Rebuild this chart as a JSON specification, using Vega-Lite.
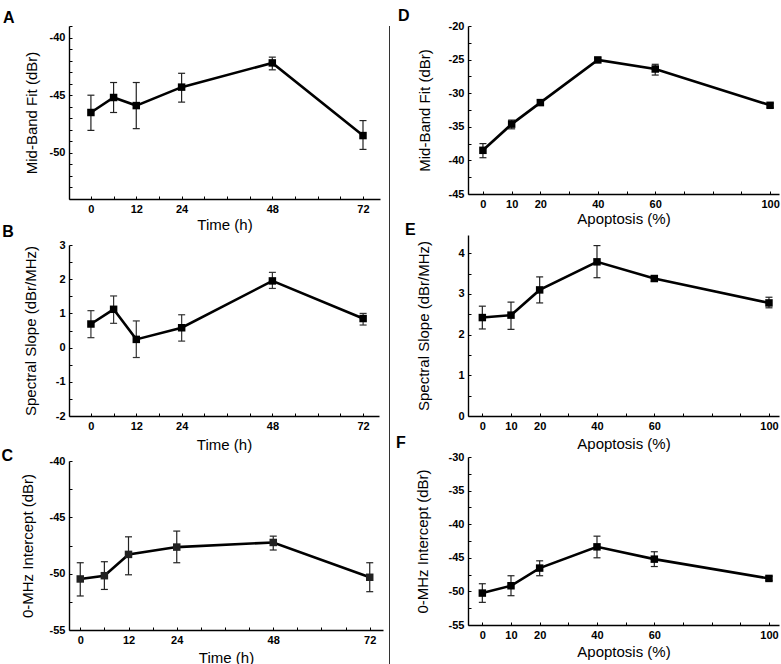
{
  "$schema": "https://vega.github.io/schema/vega-lite/v6.json",
  "padding": {"left": 1, "top": 8, "right": 5, "bottom": 0},
  "background": "white",
  "datasets": {
    "A": [
      {"x": 0, "y": -46.5, "lo": -48.05, "hi": -45.0},
      {"x": 6, "y": -45.2, "lo": -46.5, "hi": -43.9},
      {"x": 12, "y": -45.9, "lo": -47.9, "hi": -43.9},
      {"x": 24, "y": -44.3, "lo": -45.6, "hi": -43.1},
      {"x": 48, "y": -42.2, "lo": -42.8, "hi": -41.7},
      {"x": 72, "y": -48.5, "lo": -49.7, "hi": -47.2}
    ],
    "B": [
      {"x": 0, "y": 0.69, "lo": 0.29, "hi": 1.08},
      {"x": 6, "y": 1.12, "lo": 0.71, "hi": 1.51},
      {"x": 12, "y": 0.24, "lo": -0.29, "hi": 0.78},
      {"x": 24, "y": 0.58, "lo": 0.19, "hi": 0.96},
      {"x": 48, "y": 1.95, "lo": 1.73, "hi": 2.2},
      {"x": 72, "y": 0.85, "lo": 0.66, "hi": 1.0}
    ],
    "C": [
      {"x": 0, "y": -50.47, "lo": -51.98, "hi": -49.03},
      {"x": 6, "y": -50.18, "lo": -51.4, "hi": -48.94},
      {"x": 12, "y": -48.29, "lo": -50.1, "hi": -46.73},
      {"x": 24, "y": -47.64, "lo": -49.03, "hi": -46.22},
      {"x": 48, "y": -47.23, "lo": -47.9, "hi": -46.67},
      {"x": 72, "y": -50.32, "lo": -51.6, "hi": -49.03}
    ],
    "D": [
      {"x": 0, "y": -38.5, "lo": -39.6, "hi": -37.5},
      {"x": 10, "y": -34.6, "lo": -35.3, "hi": -34.0},
      {"x": 20, "y": -31.4, "lo": -31.8, "hi": -31.0},
      {"x": 40, "y": -25.05, "lo": -25.35, "hi": -24.75},
      {"x": 60, "y": -26.4, "lo": -27.3, "hi": -25.7},
      {"x": 100, "y": -31.8, "lo": -32.1, "hi": -31.5}
    ],
    "E": [
      {"x": 0, "y": 2.42, "lo": 2.14, "hi": 2.70},
      {"x": 10, "y": 2.48, "lo": 2.13, "hi": 2.80},
      {"x": 20, "y": 3.10, "lo": 2.78, "hi": 3.42},
      {"x": 40, "y": 3.79, "lo": 3.40, "hi": 4.19},
      {"x": 60, "y": 3.38, "lo": 3.31, "hi": 3.45},
      {"x": 100, "y": 2.78, "lo": 2.66, "hi": 2.92}
    ],
    "F": [
      {"x": 0, "y": -50.25, "lo": -51.63, "hi": -48.86},
      {"x": 10, "y": -49.16, "lo": -50.64, "hi": -47.67},
      {"x": 20, "y": -46.53, "lo": -47.67, "hi": -45.45},
      {"x": 40, "y": -43.37, "lo": -45.0, "hi": -41.78},
      {"x": 60, "y": -45.2, "lo": -46.3, "hi": -44.1},
      {"x": 100, "y": -48.07, "lo": -48.37, "hi": -47.77}
    ],
    "sep": [{"v": 0}]
  },
  "hconcat": [
    {
      "spacing": -8,
      "vconcat": [
        {
          "width": 311, "height": 173,
          "data": {"name": "A"},
          "title": {"text": "A", "dx": -21, "offset": -6},
          "encoding": {
            "x": {"field": "x", "type": "quantitative", "scale": {"domain": [-5.8, 76.5], "nice": false, "zero": false},
                  "axis": {"title": "Time (h)", "values": [0,6,12,18,24,30,36,42,48,54,60,66,72], "tickCount": 100, "labelExpr": "indexof([0,12,24,48,72], datum.value) >= 0 ? '' + datum.value : ''", "titlePadding": 3}}
          },
          "layer": [
            {"mark": {"type": "rule", "color": "#222", "strokeWidth": 1.2},
             "encoding": {"y": {"field": "lo", "type": "quantitative", "title": "Mid-Band Fit (dBr)", "scale": {"domain": [-54, -39], "nice": false, "zero": false},
                                "axis": {"values": [-54,-53,-52,-51,-50,-49,-48,-47,-46,-45,-44,-43,-42,-41,-40,-39], "tickCount": 100, "labelExpr": "datum.value % 5 === 0 ? '' + datum.value : ''", "titlePadding": 10}}, "y2": {"field": "hi"}}},
            {"mark": {"type": "tick", "orient": "horizontal", "size": 7, "thickness": 1.2, "color": "#222", "opacity": 1},
             "encoding": {"y": {"field": "lo", "type": "quantitative", "title": "Mid-Band Fit (dBr)"}}},
            {"mark": {"type": "tick", "orient": "horizontal", "size": 7, "thickness": 1.2, "color": "#222", "opacity": 1},
             "encoding": {"y": {"field": "hi", "type": "quantitative", "title": "Mid-Band Fit (dBr)"}}},
            {"mark": {"type": "line", "color": "black", "strokeWidth": 2.6},
             "encoding": {"y": {"field": "y", "type": "quantitative", "title": "Mid-Band Fit (dBr)"}}},
            {"mark": {"type": "square", "color": "black", "size": 56, "opacity": 1},
             "encoding": {"y": {"field": "y", "type": "quantitative", "title": "Mid-Band Fit (dBr)"}}}
          ]
        },
        {
          "spacing": -4,
          "vconcat": [
            {
              "width": 310, "height": 171,
              "data": {"name": "B"},
              "title": {"text": "B", "dx": -21, "offset": -1},
              "encoding": {
                "x": {"field": "x", "type": "quantitative", "scale": {"domain": [-5.8, 76.2], "nice": false, "zero": false},
                      "axis": {"title": "Time (h)", "values": [0,6,12,18,24,30,36,42,48,54,60,66,72], "tickCount": 100, "labelExpr": "indexof([0,12,24,48,72], datum.value) >= 0 ? '' + datum.value : ''", "titlePadding": 6}}
              },
              "layer": [
                {"mark": {"type": "rule", "color": "#333", "strokeWidth": 1.2},
                 "encoding": {"y": {"field": "lo", "type": "quantitative", "title": "Spectral Slope (dBr/MHz)", "scale": {"domain": [-2, 3], "nice": false, "zero": false},
                                    "axis": {"values": [-2,-1.5,-1,-0.5,0,0.5,1,1.5,2,2.5,3], "tickCount": 100, "labelExpr": "datum.value % 1 === 0 ? '' + datum.value : ''", "titlePadding": 17}}, "y2": {"field": "hi"}}},
                {"mark": {"type": "tick", "orient": "horizontal", "size": 7, "thickness": 1.2, "color": "#333", "opacity": 1},
                 "encoding": {"y": {"field": "lo", "type": "quantitative", "title": "Spectral Slope (dBr/MHz)"}}},
                {"mark": {"type": "tick", "orient": "horizontal", "size": 7, "thickness": 1.2, "color": "#333", "opacity": 1},
                 "encoding": {"y": {"field": "hi", "type": "quantitative", "title": "Spectral Slope (dBr/MHz)"}}},
                {"mark": {"type": "line", "color": "black", "strokeWidth": 2.6},
                 "encoding": {"y": {"field": "y", "type": "quantitative", "title": "Spectral Slope (dBr/MHz)"}}},
                {"mark": {"type": "square", "color": "black", "size": 56, "opacity": 1},
                 "encoding": {"y": {"field": "y", "type": "quantitative", "title": "Spectral Slope (dBr/MHz)"}}}
              ]
            },
            {
              "width": 314, "height": 169,
              "data": {"name": "C"},
              "title": {"text": "C", "dx": -18.5, "offset": -9},
              "encoding": {
                "x": {"field": "x", "type": "quantitative", "scale": {"domain": [-2.8, 75.3], "nice": false, "zero": false},
                      "axis": {"title": "Time (h)", "values": [0,6,12,18,24,30,36,42,48,54,60,66,72], "tickCount": 100, "labelExpr": "indexof([0,12,24,48,72], datum.value) >= 0 ? '' + datum.value : ''", "titlePadding": 5}}
              },
              "layer": [
                {"mark": {"type": "rule", "color": "#222", "strokeWidth": 1.2},
                 "encoding": {"y": {"field": "lo", "type": "quantitative", "title": "0-MHz Intercept (dBr)", "scale": {"domain": [-55, -40], "nice": false, "zero": false},
                                    "axis": {"values": [-55,-52.5,-50,-47.5,-45,-42.5,-40], "tickCount": 100, "labelExpr": "datum.value % 5 === 0 ? '' + datum.value : ''", "titlePadding": 14}}, "y2": {"field": "hi"}}},
                {"mark": {"type": "tick", "orient": "horizontal", "size": 7, "thickness": 1.2, "color": "#222", "opacity": 1},
                 "encoding": {"y": {"field": "lo", "type": "quantitative", "title": "0-MHz Intercept (dBr)"}}},
                {"mark": {"type": "tick", "orient": "horizontal", "size": 7, "thickness": 1.2, "color": "#222", "opacity": 1},
                 "encoding": {"y": {"field": "hi", "type": "quantitative", "title": "0-MHz Intercept (dBr)"}}},
                {"mark": {"type": "line", "color": "black", "strokeWidth": 2.6},
                 "encoding": {"y": {"field": "y", "type": "quantitative", "title": "0-MHz Intercept (dBr)"}}},
                {"mark": {"type": "square", "color": "#222", "size": 56, "opacity": 1},
                 "encoding": {"y": {"field": "y", "type": "quantitative", "title": "0-MHz Intercept (dBr)"}}}
              ]
            }
          ]
        }
      ]
    },
    {
      "width": 1, "height": 652,
      "data": {"name": "sep"},
      "mark": {"type": "rule", "color": "#333", "strokeWidth": 1},
      "encoding": {"x": {"field": "v", "type": "quantitative", "axis": null, "scale": {"domain": [-1, 1]}}}
    },
    {
      "spacing": -4,
      "vconcat": [
        {
          "width": 311, "height": 168,
          "data": {"name": "D"},
          "title": {"text": "D", "dx": -19, "offset": -4},
          "encoding": {
            "x": {"field": "x", "type": "quantitative", "scale": {"domain": [-5.2, 103.1], "nice": false, "zero": false},
                  "axis": {"title": "Apoptosis (%)", "values": [0,10,20,30,40,50,60,70,80,90,100], "tickCount": 100, "labelExpr": "indexof([0,10,20,40,60,100], datum.value) >= 0 ? '' + datum.value : ''", "titlePadding": 2}}
          },
          "layer": [
            {"mark": {"type": "rule", "color": "#222", "strokeWidth": 1.2},
             "encoding": {"y": {"field": "lo", "type": "quantitative", "title": "Mid-Band Fit (dBr)", "scale": {"domain": [-45, -20], "nice": false, "zero": false},
                                "axis": {"values": [-45,-42.5,-40,-37.5,-35,-32.5,-30,-27.5,-25,-22.5,-20], "tickCount": 100, "labelExpr": "datum.value % 5 === 0 ? '' + datum.value : ''", "titlePadding": 16}}, "y2": {"field": "hi"}}},
            {"mark": {"type": "tick", "orient": "horizontal", "size": 7, "thickness": 1.2, "color": "#222", "opacity": 1},
             "encoding": {"y": {"field": "lo", "type": "quantitative", "title": "Mid-Band Fit (dBr)"}}},
            {"mark": {"type": "tick", "orient": "horizontal", "size": 7, "thickness": 1.2, "color": "#222", "opacity": 1},
             "encoding": {"y": {"field": "hi", "type": "quantitative", "title": "Mid-Band Fit (dBr)"}}},
            {"mark": {"type": "line", "color": "black", "strokeWidth": 2.6},
             "encoding": {"y": {"field": "y", "type": "quantitative", "title": "Mid-Band Fit (dBr)"}}},
            {"mark": {"type": "square", "color": "black", "size": 56, "opacity": 1},
             "encoding": {"y": {"field": "y", "type": "quantitative", "title": "Mid-Band Fit (dBr)"}}}
          ]
        },
        {
          "spacing": -17,
          "vconcat": [
            {
              "width": 311, "height": 181,
              "data": {"name": "E"},
              "title": {"text": "E", "dx": -12, "offset": -3},
              "encoding": {
                "x": {"field": "x", "type": "quantitative", "scale": {"domain": [-5, 103.5], "nice": false, "zero": false},
                      "axis": {"title": "Apoptosis (%)", "values": [0,10,20,30,40,50,60,70,80,90,100], "tickCount": 100, "labelExpr": "indexof([0,10,20,40,60,100], datum.value) >= 0 ? '' + datum.value : ''", "titlePadding": 5}}
              },
              "layer": [
                {"mark": {"type": "rule", "color": "#222", "strokeWidth": 1.2},
                 "encoding": {"y": {"field": "lo", "type": "quantitative", "title": "Spectral Slope (dBr/MHz)", "scale": {"domain": [0, 4.45], "nice": false, "zero": false},
                                    "axis": {"values": [0,0.5,1,1.5,2,2.5,3,3.5,4], "tickCount": 100, "labelExpr": "datum.value % 1 === 0 ? '' + datum.value : ''", "titlePadding": 26}}, "y2": {"field": "hi"}}},
                {"mark": {"type": "tick", "orient": "horizontal", "size": 7, "thickness": 1.2, "color": "#222", "opacity": 1},
                 "encoding": {"y": {"field": "lo", "type": "quantitative", "title": "Spectral Slope (dBr/MHz)"}}},
                {"mark": {"type": "tick", "orient": "horizontal", "size": 7, "thickness": 1.2, "color": "#222", "opacity": 1},
                 "encoding": {"y": {"field": "hi", "type": "quantitative", "title": "Spectral Slope (dBr/MHz)"}}},
                {"mark": {"type": "line", "color": "black", "strokeWidth": 2.6},
                 "encoding": {"y": {"field": "y", "type": "quantitative", "title": "Spectral Slope (dBr/MHz)"}}},
                {"mark": {"type": "square", "color": "black", "size": 56, "opacity": 1},
                 "encoding": {"y": {"field": "y", "type": "quantitative", "title": "Spectral Slope (dBr/MHz)"}}}
              ]
            },
            {
              "width": 311, "height": 168,
              "data": {"name": "F"},
              "title": {"text": "F", "dx": -19, "offset": 0.3},
              "encoding": {
                "x": {"field": "x", "type": "quantitative", "scale": {"domain": [-5, 103.5], "nice": false, "zero": false},
                      "axis": {"title": "Apoptosis (%)", "values": [0,10,20,30,40,50,60,70,80,90,100], "tickCount": 100, "labelExpr": "indexof([0,10,20,40,60,100], datum.value) >= 0 ? '' + datum.value : ''", "titlePadding": 4}}
              },
              "layer": [
                {"mark": {"type": "rule", "color": "#222", "strokeWidth": 1.2},
                 "encoding": {"y": {"field": "lo", "type": "quantitative", "title": "0-MHz Intercept (dBr)", "scale": {"domain": [-55, -30], "nice": false, "zero": false},
                                    "axis": {"values": [-55,-52.5,-50,-47.5,-45,-42.5,-40,-37.5,-35,-32.5,-30], "tickCount": 100, "labelExpr": "datum.value % 5 === 0 ? '' + datum.value : ''", "titlePadding": 18}}, "y2": {"field": "hi"}}},
                {"mark": {"type": "tick", "orient": "horizontal", "size": 7, "thickness": 1.2, "color": "#222", "opacity": 1},
                 "encoding": {"y": {"field": "lo", "type": "quantitative", "title": "0-MHz Intercept (dBr)"}}},
                {"mark": {"type": "tick", "orient": "horizontal", "size": 7, "thickness": 1.2, "color": "#222", "opacity": 1},
                 "encoding": {"y": {"field": "hi", "type": "quantitative", "title": "0-MHz Intercept (dBr)"}}},
                {"mark": {"type": "line", "color": "black", "strokeWidth": 2.6},
                 "encoding": {"y": {"field": "y", "type": "quantitative", "title": "0-MHz Intercept (dBr)"}}},
                {"mark": {"type": "square", "color": "black", "size": 56, "opacity": 1},
                 "encoding": {"y": {"field": "y", "type": "quantitative", "title": "0-MHz Intercept (dBr)"}}}
              ]
            }
          ]
        }
      ]
    }
  ],
  "spacing": 6,
  "config": {
    "view": {"stroke": null},
    "font": "Liberation Sans",
    "axis": {
      "grid": false,
      "domainColor": "black",
      "domainWidth": 1.4,
      "tickColor": "black",
      "tickWidth": 1,
      "tickSize": -3,
      "labelPadding": 7,
      "labelFont": "Liberation Sans",
      "labelFontSize": 11,
      "labelFontWeight": "bold",
      "labelColor": "black",
      "labelFlush": false,
      "labelOverlap": false,
      "titleFont": "Liberation Sans",
      "titleFontSize": 15,
      "titleFontWeight": "normal",
      "titleColor": "black"
    },
    "title": {"fontSize": 16, "fontWeight": "bold", "anchor": "start", "frame": "bounds", "baseline": "alphabetic", "color": "black", "font": "Liberation Sans"}
  }
}
